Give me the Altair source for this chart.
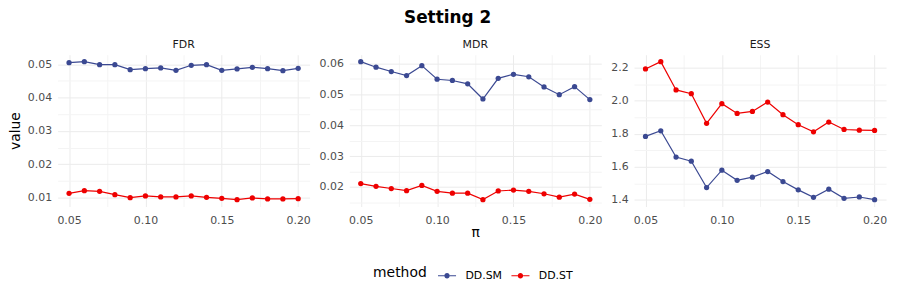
import altair as alt
import pandas as pd

# ---------------- data ----------------
pi_vals = [0.05, 0.06, 0.07, 0.08, 0.09, 0.10, 0.11, 0.12,
           0.13, 0.14, 0.15, 0.16, 0.17, 0.18, 0.19, 0.20]
methods = ["DD.SM", "DD.ST"]
method_colors = ["#3B4992", "#EE0000"]

fdr_sm = [0.0505, 0.0508, 0.0499, 0.0499, 0.0484, 0.0487, 0.0489, 0.0482,
          0.0497, 0.0499, 0.0482, 0.0486, 0.0491, 0.0487, 0.0481, 0.0488]
fdr_st = [0.0113, 0.0121, 0.0119, 0.0109, 0.0100, 0.0105, 0.0102, 0.0102,
          0.0105, 0.0101, 0.0098, 0.0094, 0.0099, 0.0096, 0.0096, 0.0097]

mdr_sm = [0.0606, 0.0588, 0.0574, 0.0561, 0.0593, 0.0549, 0.0545, 0.0534,
          0.0485, 0.0552, 0.0565, 0.0557, 0.0524, 0.0499, 0.0525, 0.0483]
mdr_st = [0.0211, 0.0202, 0.0195, 0.0188, 0.0205, 0.0186, 0.0180, 0.0180,
          0.0159, 0.0187, 0.0190, 0.0186, 0.0178, 0.0167, 0.0177, 0.0160]

ess_sm = [1.784, 1.818, 1.659, 1.634, 1.475, 1.580, 1.519, 1.538,
          1.572, 1.511, 1.461, 1.416, 1.465, 1.410, 1.418, 1.402]
ess_st = [2.192, 2.236, 2.065, 2.042, 1.863, 1.982, 1.923, 1.935,
          1.992, 1.915, 1.855, 1.812, 1.871, 1.826, 1.822, 1.820]

x_ticks = [0.05, 0.075, 0.10, 0.125, 0.15, 0.175, 0.20]
fdr_ticks = [0.01, 0.015, 0.02, 0.025, 0.03, 0.035, 0.04, 0.045, 0.05]
mdr_ticks = [0.015, 0.02, 0.025, 0.03, 0.035, 0.04, 0.045, 0.05, 0.055, 0.06]
ess_ticks = [1.4, 1.5, 1.6, 1.7, 1.8, 1.9, 2.0, 2.1, 2.2]

FONT = "DejaVu Sans"
W, H = 254, 153

LEGEND_SYMBOL = ("M-1,-0.065 L-0.3,-0.065 L-0.3,0.065 L-1,0.065 Z "
                 "M0.3,-0.065 L1,-0.065 L1,0.065 L0.3,0.065 Z "
                 "M0.3,0 A0.3,0.3 0 1,1 -0.3,0 A0.3,0.3 0 1,1 0.3,0 Z")


def major_test(step):
    return f"abs(datum.value/{step} - round(datum.value/{step})) < 1e-6"


def grid_color(step):
    return {"condition": {"test": major_test(step), "value": "#EBEBEB"},
            "value": "#F4F4F4"}


def label_expr(step, fmt):
    return f"{major_test(step)} ? format(datum.value, '{fmt}') : ''"


def expand(vals):
    lo, hi = min(vals), max(vals)
    pad = (hi - lo) * 0.05
    return [lo - pad, hi + pad]


LEGEND = alt.Legend(
    orient="none", legendX=318, legendY=213, direction="horizontal",
    title="method", titleOrient="left", titleFontSize=14,
    titleFontWeight="normal", titleColor="#000000", titleFont=FONT,
    titlePadding=10, labelFontSize=11, labelColor="#000000",
    labelFont=FONT, labelOffset=9, columnPadding=9,
    symbolType=LEGEND_SYMBOL, symbolSize=330, symbolStrokeWidth=0,
    symbolOpacity=1,
)


def panel(name, sm, st, yticks, ystep, yfmt, ytitle, xtitle):
    n = len(pi_vals)
    df = pd.DataFrame({
        "pi": pi_vals * 2,
        "value": sm + st,
        "method": [methods[0]] * n + [methods[1]] * n,
    })
    x = alt.X(
        "pi:Q",
        scale=alt.Scale(domain=expand(pi_vals), nice=False, zero=False),
        axis=alt.Axis(values=x_ticks, labelExpr=label_expr(0.05, ".2f"),
                      gridColor=grid_color(0.05), title=xtitle),
    )
    y = alt.Y(
        "value:Q",
        scale=alt.Scale(domain=expand(sm + st), nice=False, zero=False),
        axis=alt.Axis(values=yticks, labelExpr=label_expr(ystep, yfmt),
                      gridColor=grid_color(ystep), title=ytitle,
                      titlePadding=5, labelPadding=6),
    )
    color = alt.Color("method:N",
                      scale=alt.Scale(domain=methods, range=method_colors),
                      legend=LEGEND)
    line = alt.Chart(df).mark_line(strokeWidth=1.2).encode(
        x=x, y=y, color=color)
    pts = alt.Chart(df).mark_point(filled=True, size=28, opacity=1).encode(
        x=x, y=y, color=color)
    return alt.layer(line, pts).properties(
        width=W, height=H,
        title=alt.TitleParams(name, fontSize=11, fontWeight="normal",
                              color="#1A1A1A", font=FONT, anchor="middle",
                              offset=5),
    )


p1 = panel("FDR", fdr_sm, fdr_st, fdr_ticks, 0.01, ".2f", "value", None)
p2 = panel("MDR", mdr_sm, mdr_st, mdr_ticks, 0.01, ".2f", None, "π")
p3 = panel("ESS", ess_sm, ess_st, ess_ticks, 0.2, ".1f", None, None)

chart = alt.hconcat(p1, p2, p3, spacing=8).properties(
    title=alt.TitleParams("Setting 2", fontSize=17, fontWeight="bold",
                          font=FONT, anchor="middle", color="#000000",
                          offset=12),
    padding={"left": 0, "top": 0, "right": 5, "bottom": 5},
).configure_view(stroke=None).configure_axis(
    domain=False, ticks=False, tickSize=0, labelColor="#4D4D4D",
    labelFontSize=11, labelFont=FONT, labelPadding=8,
    titleFontSize=14, titleFontWeight="normal", titleColor="#000000",
    titleFont=FONT, titlePadding=0,
)

chart.save("out.html", embed_options={"renderer": "svg", "actions": False})
